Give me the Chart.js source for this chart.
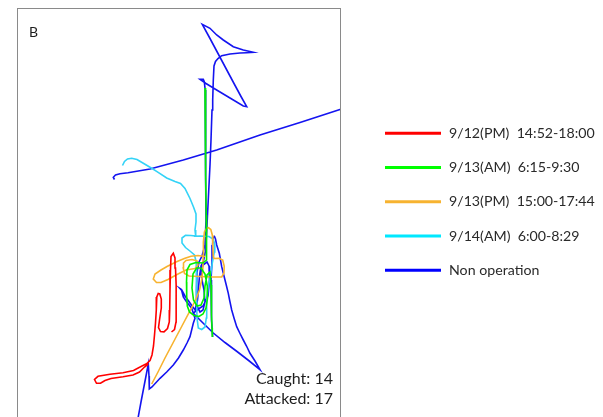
<!DOCTYPE html>
<html>
<head>
<meta charset="utf-8">
<script src="https://cdn.jsdelivr.net/npm/chart.js@4.4.1/dist/chart.umd.min.js"></script>
<style>
html,body{margin:0;padding:0;background:#fff;overflow:hidden;}
#wrap{width:603px;height:417px;overflow:hidden;}
canvas{display:block;}
</style>
</head>
<body>
<div id="wrap"><canvas id="c" width="603" height="432"></canvas></div>
<script>
// Track positions (map units), one series per operation
const seriesNames = ["9/12(PM)  14:52-18:00", "9/13(AM)  6:15-9:30", "9/13(PM)  15:00-17:44", "9/14(AM)  6:00-8:29", "Non operation"];
const panelLabel = "B";
const caughtText = "Caught: 14";
const attackedText = "Attacked: 17";

const redTrack = [[171.5,332],[174.5,329.5],[176,322],[176.3,305],[176,285],[175.5,268],[175,258],[173.3,253.3],[171,256.5],[170.5,270],[170,290],[169.7,310],[169.3,322],[167.5,328.5],[164,331.8],[160.5,331.5],[158.5,327.5],[159.5,320],[161.3,308],[161.3,299],[159.8,294],[158.2,293.5],[156.8,297],[156.3,310],[155.5,323],[154.5,335],[153.5,346],[152,355],[150,360.5],[146.5,363.8],[141.5,366.3],[133.5,370.5],[123,372.7],[110,374.3],[98,376.3],[94.5,379.5],[96.5,383.3],[100.5,383.3],[105,380.5],[111,378.5],[123,376.8],[133,375],[139.5,372],[144.5,367],[148.3,364]];

const greenTrack = [[205,88],[205.4,130],[205.8,175],[206.2,215],[206.6,245],[206.5,260],[203,263],[196,262.5],[190,264.5],[187,270],[186.5,282],[186.7,296],[187.3,306],[189.5,312],[194,315.5],[199,316.5],[203,314],[206,308],[207.5,298],[207.3,286],[205,274],[201,268],[196.5,268],[193,274],[192,288],[193.5,300],[197,306],[201,305],[204,298],[205,286],[207,275],[210,272],[211,285],[211.3,300],[211.7,315],[212,328],[212.3,337]];

const orangeTrack = [[151.7,384],[158,372],[165,358],[174,341],[183,324],[191,309],[196,299],[199.5,290],[201.5,281],[202.8,270],[203.2,255],[203.4,242],[204.4,232],[206.5,228.5],[208.5,227.7],[210.8,229.5],[212.3,235],[212.8,245],[213.2,256],[214,258.5],[219,258.3],[222.7,260],[224.2,266],[224,273],[221.7,277],[212,277],[200,276.5],[189,276],[184.5,273.5],[183.2,268],[183.5,263],[186,260.5],[192,259.5],[197,261],[198,265],[195,268.5],[186,270],[177,274.5],[168,279.5],[161,282.5],[156.5,282.5],[153.3,279],[155,274],[161,270],[167,266.5],[176.5,261.8],[185,258.3],[191,256.2],[198,255.5],[205,256.5]];

const cyanTrack = [[122.5,165.5],[124.5,161.5],[127.5,159],[131.7,158.2],[137,159.5],[143.3,163.3],[151.7,168.3],[157,171.7],[166.7,178],[175,181.5],[180.5,183.5],[185,188.5],[190,198.5],[193.5,207],[196,214],[196,222],[195,230],[195.7,236],[191,235.5],[185.5,235.3],[182,238],[182,243],[185.5,247.5],[190.5,251.5],[194.5,255],[196.2,262],[196.5,280],[196.7,300],[197,318],[198.3,328],[201.7,329.5],[205,327],[206.3,318],[206.7,300],[208,288],[210.5,275],[212.5,262],[214.3,252],[214.8,244],[213,239],[209,236.5],[200,236],[194,236.3]];

const blueTrack = [[135.5,432],[138.3,416.7],[141,402],[143.3,390],[146,376],[148.3,364],[149,376],[149.3,389],[152,387],[160,378.3],[166.7,372],[173.3,365],[178.5,358],[183.3,350],[187,343],[190,336.7],[193.3,323.3],[195,318.3],[191.7,308.3],[186.7,302],[183.3,297],[181.7,290.5],[180,288.5],[181.5,289.5],[185,296],[190,303],[195,310],[197.5,300],[198.5,288],[199.5,276],[201,266],[203.5,261],[205.7,250],[206.5,235],[207.5,215],[208.5,195],[210,165],[211,140],[212,110],[212.7,100],[213.3,80],[214,66],[215.5,61.5],[218,58.5],[221.7,55.7],[230,54],[240,53],[246.7,52.7],[253.3,52.3],[243.3,50],[233.3,46.7],[223.3,40],[216.7,35],[210,28.3],[202.3,24.3],[210,38.5],[218,53.5],[226,68.5],[234,83.5],[241,96.5],[246.7,106.7],[243.3,106],[230,98],[215,89],[206,83.5],[200,79.3],[203.3,79.3],[204.3,81.7],[205.2,90],[205.5,130],[205.8,180],[206,220],[205,245],[202,256],[199,262],[197,272],[196.5,290],[196.5,300],[197,306],[200,312],[203,310],[205,302],[204,290],[202,280],[201,272],[203,265],[207,262],[209,266],[209.5,280],[208,296],[203,306],[197,310],[193.3,313.3],[203,323],[213.3,333],[225,342.5],[237,351.5],[248,360],[260,369.7],[255,361],[250,353.3],[246.5,346],[243.3,340],[240,333.5],[236.7,326.7],[234,318],[231.7,310],[229.8,301],[228.3,293.3],[226.5,286],[225,280],[221.7,266.7],[219.3,253.3],[216.7,245],[215.5,239],[214.5,236.5],[213.3,237.5],[212.5,245],[212,262],[211,280],[211.2,300],[211.8,320],[212.7,337],
  null,
  [360,102],[340.7,109.3],[300,122.5],[260,135],[216.7,150],[183.3,160],[150,169],[128,172.8],[120,173.8],[115.5,175],[113.3,177.3],[114.5,179.5]];

const seriesTracks = [redTrack, greenTrack, orangeTrack, cyanTrack, blueTrack];
const seriesColors = ["#ff0000", "#00f000", "#f7b330", "#33d3f7", "#1414f0"];
const legendColors = ["#ff0000", "#00ff00", "#f7b330", "#00e8ff", "#0000ff"];

function toPoints(track) {
  return track.map(p => p === null ? {x: null, y: null} : {x: p[0], y: p[1]});
}

const boxPlugin = {
  id: 'boxAndText',
  afterDraw(chart) {
    const ctx = chart.ctx;
    const a = chart.chartArea;
    ctx.save();
    ctx.strokeStyle = '#8a8a8a';
    ctx.lineWidth = 1;
    ctx.strokeRect(a.left + 0.5, a.top + 0.5, a.right - a.left - 1, a.bottom - a.top);
    ctx.fillStyle = '#1e1e1e';
    ctx.font = '14px Lato';
    ctx.textBaseline = 'alphabetic';
    ctx.textAlign = 'left';
    ctx.fillText(panelLabel, a.left + 12, a.top + 29);
    ctx.font = '16px Lato';
    ctx.textAlign = 'right';
    ctx.fillText(caughtText, a.right - 8, 383.5);
    ctx.fillText(attackedText, a.right - 8, 403.5);
    // legend
    ctx.textAlign = 'left';
    ctx.font = '14.2px Lato';
    ctx.fillStyle = '#2a2a2a';
    seriesNames.forEach((name, i) => {
      const y = 133.3 + i * 34.25;
      ctx.strokeStyle = legendColors[i];
      ctx.lineWidth = 3;
      ctx.beginPath();
      ctx.moveTo(a.right + 44, y);
      ctx.lineTo(a.right + 100, y);
      ctx.stroke();
      ctx.textBaseline = 'middle';
      ctx.fillText(name, a.right + 108, y);
    });
    ctx.restore();
  }
};

new Chart(document.getElementById('c'), {
  type: 'scatter',
  data: {
    datasets: seriesTracks.map((t, i) => ({
      label: seriesNames[i],
      data: toPoints(t),
      showLine: true,
      spanGaps: false,
      borderColor: seriesColors[i],
      backgroundColor: seriesColors[i],
      borderWidth: 1.6,
      pointRadius: 0,
      tension: 0
    }))
  },
  options: {
    responsive: false,
    animation: false,
    devicePixelRatio: 1,
    layout: { padding: { left: 17, top: 8, right: 262, bottom: 0 } },
    plugins: { legend: { display: false }, tooltip: { enabled: false } },
    scales: {
      x: { type: 'linear', min: 17, max: 341, display: false },
      y: { type: 'linear', min: 8, max: 432, reverse: true, display: false }
    }
  },
  plugins: [boxPlugin]
});
</script>
</body>
</html>
